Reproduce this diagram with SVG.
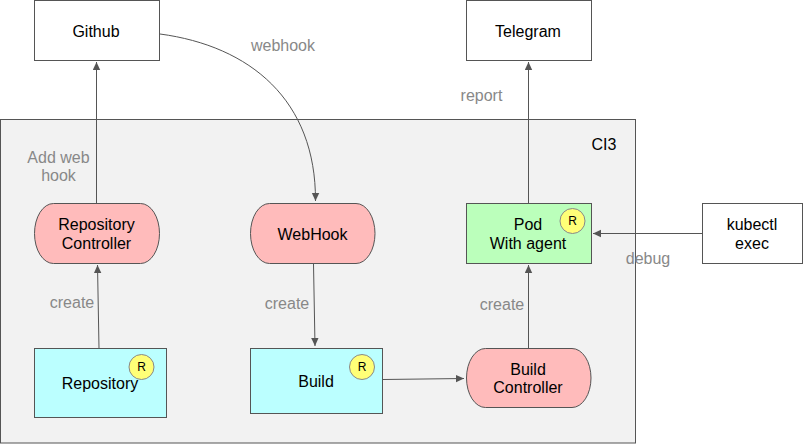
<svg xmlns="http://www.w3.org/2000/svg" width="803" height="444" viewBox="0 0 803 444">
<style>
text{font-family:"Liberation Sans",Arial,sans-serif;font-size:16px;text-anchor:middle;fill:#000}
text.l{fill:#888}
.box{stroke:#555;stroke-width:1}
.white{fill:#fff}
.pink{fill:#ffbbbb}
.cyan{fill:#bbffff}
.green{fill:#bbffbb}
.badge{fill:#ffff77;stroke:#888;stroke-width:1}
text.b{font-size:12px}
.c{fill:none;stroke:#555;stroke-width:1;marker-end:url(#a)}
</style>
<defs>
<marker id="a" markerUnits="userSpaceOnUse" markerWidth="9" markerHeight="9" refX="8" refY="4" orient="auto"><path d="M0 0.300L8 4L0 7.700Z" fill="#555"/></marker>
</defs>
<rect width="803" height="444" fill="#fff"/>
<g id="ci3">
<rect x="0.500" y="119.500" width="635" height="323.500" fill="#f2f2f2" class="box"/>
<text x="604" y="150">CI3</text>
</g>
<g id="connectors">
<path class="c" d="M96.500 203V62"/>
<path class="c" d="M160 34C250 46 316 100 315.500 201"/>
<path class="c" d="M528.500 203V62"/>
<path class="c" d="M702 233.500H593"/>
<path class="c" d="M99 348.500L97.500 265"/>
<path class="c" d="M313.500 264L315 346"/>
<path class="c" d="M383 379.500L464 378.500"/>
<path class="c" d="M528.500 348.500V265"/>
</g>
<g id="github"><rect class="box white" x="34.500" y="0.500" width="125" height="60"/><text x="96" y="36.500">Github</text></g>
<g id="telegram"><rect class="box white" x="466.500" y="0.500" width="125" height="60"/><text x="528" y="36.500">Telegram</text></g>
<g id="kubectl"><rect class="box white" x="702.500" y="203.500" width="100" height="60"/><text x="752" y="230">kubectl</text><text x="752" y="249">exec</text></g>
<g id="repository-controller"><rect class="box pink" x="34.500" y="203.500" width="125" height="60" rx="19" ry="30"/><text x="96.500" y="230">Repository</text><text x="96.500" y="249">Controller</text></g>
<g id="webhook"><rect class="box pink" x="250.500" y="203.500" width="124.500" height="60" rx="19" ry="30"/><text x="312.500" y="239.500">WebHook</text></g>
<g id="pod"><rect class="box green" x="466.500" y="203.500" width="125" height="60"/><text x="528" y="230">Pod</text><text x="528" y="249">With agent</text><circle class="badge" cx="572.500" cy="221" r="12.500"/><text class="b" x="572.500" y="225">R</text></g>
<g id="repository"><rect class="box cyan" x="34.500" y="348.500" width="132" height="69"/><text x="100" y="389">Repository</text><circle class="badge" cx="141.500" cy="367" r="12.500"/><text class="b" x="141.500" y="371">R</text></g>
<g id="build"><rect class="box cyan" x="250.500" y="348.500" width="132" height="65"/><text x="316" y="387">Build</text><circle class="badge" cx="362" cy="367" r="12.500"/><text class="b" x="362" y="371">R</text></g>
<g id="build-controller"><rect class="box pink" x="466.500" y="348.500" width="124.500" height="59" rx="19" ry="29.500"/><text x="528" y="375">Build</text><text x="528" y="393">Controller</text></g>
<g id="labels">
<text class="l" x="283" y="50.500">webhook</text>
<text class="l" x="58.500" y="163">Add web</text>
<text class="l" x="58.500" y="181">hook</text>
<text class="l" x="481.500" y="101">report</text>
<text class="l" x="648" y="264">debug</text>
<text class="l" x="72" y="308">create</text>
<text class="l" x="287" y="309">create</text>
<text class="l" x="502" y="310">create</text>
</g>
</svg>
